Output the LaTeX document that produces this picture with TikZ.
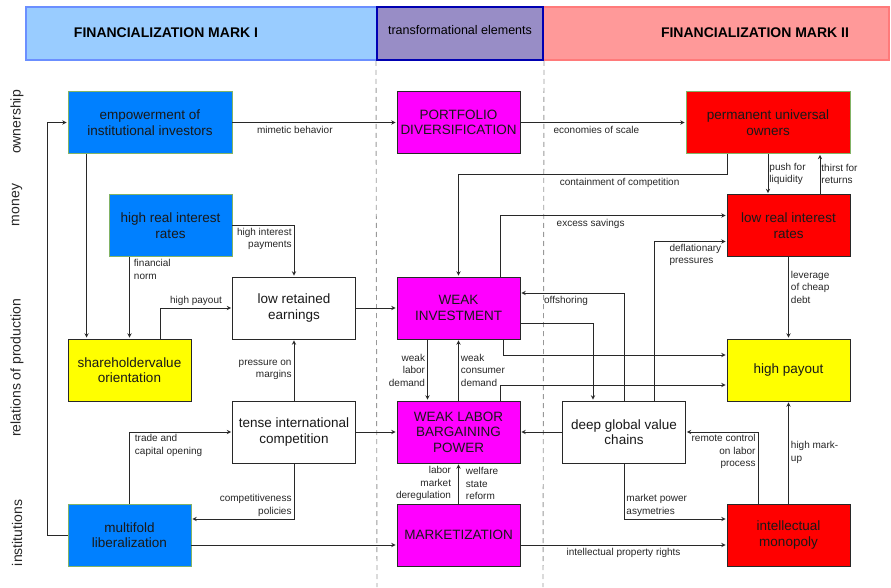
\documentclass[tikz,border=0pt]{standalone}
\usepackage{fontspec}
\setmainfont{Liberation Sans}
\usetikzlibrary{arrows}
\usetikzlibrary{calc}

\definecolor{fblue}{RGB}{0,128,255}
\definecolor{fmag}{RGB}{255,0,255}
\definecolor{fred}{RGB}{255,0,0}
\definecolor{fyel}{RGB}{255,255,0}
\definecolor{gborder}{RGB}{130,179,102}
\definecolor{dline}{RGB}{40,40,40}
\definecolor{hblue}{RGB}{153,204,255}
\definecolor{hpurple}{RGB}{152,141,198}
\definecolor{hred}{RGB}{255,153,153}

\begin{document}
\begin{tikzpicture}[x=1pt,y=-1pt,->,>=stealth,shorten >=1pt,line width=0.9pt,draw=dline,
        box/.style={rectangle,draw=dline,fill=white,minimum width=123pt,minimum height=62pt,inner sep=1pt,
          align=center,font=\fontsize{13.5}{15.5}\selectfont,text=black!90},
        wide/.style={minimum width=164pt},
        bluebox/.style={fill=fblue,draw=gborder},
        magbox/.style={fill=fmag},
        redbox/.style={fill=fred},
        yelbox/.style={fill=fyel},
        lbl/.style={font=\fontsize{10}{12.5}\selectfont,inner sep=2pt,text=black!85},
        band/.style={rectangle,line width=2pt,minimum height=53pt,inner sep=0pt},
        rowlbl/.style={rotate=90,font=\fontsize{14}{16}\selectfont,text=black!85},
        vh/.style={to path={|- (\tikztotarget) \tikztonodes}},
        hv/.style={to path={-| (\tikztotarget) \tikztonodes}}]
  \useasboundingbox (0,0) rectangle (891,588);
  % header bands
  \node[band,fill=hblue,draw=hblue!70!blue] (bI) at (201.5,33.5) [minimum width=351pt] {};
  \node[band,fill=hred,draw=hred!80!red] (bII) at (716,33.5) [minimum width=346pt] {};
  \node[band,fill=hpurple,draw=blue!70!black] (bT) at (460,33.5) [minimum width=166pt] {};
  \node[font=\fontsize{14}{16}\selectfont\bfseries] (mkI) at (166,33) {FINANCIALIZATION MARK I};
  \node[font=\fontsize{12.5}{15}\selectfont] (tel) at (460,30) {transformational elements};
  \node[font=\fontsize{14}{16}\selectfont\bfseries] (mkII) at (755,33) {FINANCIALIZATION MARK II};
  \draw[-,gray!80,dash pattern=on 5pt off 4pt] (bT.south west) -- (377,588);
  \draw[-,gray!80,dash pattern=on 5pt off 4pt] (bT.south east) -- (543,588);
  % row labels
  \node[rowlbl] (rown) at (17,122) {ownership};
  \node[rowlbl] (rmon) at (17,205) {money};
  \node[rowlbl] (rrel) at (17,368) {relations of production};
  \node[rowlbl] (rins) at (17,533) {institutions};
  % mark I
  \node[box,bluebox,wide] (epi) at (150,122.5) {empowerment of\\institutional investors};
  \node[box,bluebox] (hri) at (170.5,225.5) {high real interest\\rates};
  \node[box,yelbox] (svo) at (129.5,370) {shareholdervalue\\orientation};
  \node[box] (lre) at (294,308) {low retained\\earnings};
  \node[box] (tic) at (294,432) {tense international\\competition};
  \node[box,bluebox] (mlib) at (129.5,535) {multifold\\liberalization};
  % transformational elements
  \node[box,magbox] (pdiv) at (458.5,122.5) {PORTFOLIO\\DIVERSIFICATION};
  \node[box,magbox] (winv) at (458.5,308) {WEAK\\INVESTMENT};
  \node[box,magbox] (wlbp) at (458.5,432) {WEAK LABOR\\BARGAINING\\POWER};
  \node[box,magbox] (mkt) at (458.5,535) {MARKETIZATION};
  % mark II
  \node[box,redbox,wide,draw=gborder] (puo) at (768,122.5) {permanent universal\\owners};
  \node[box,redbox] (lrir) at (788.5,225.5) {low real interest\\rates};
  \node[box,yelbox] (hpay) at (788.5,370) {high payout};
  \node[box] (dgvc) at (624,432) {deep global value\\chains};
  \node[box,redbox] (imon) at (788.5,535) {intellectual\\monopoly};

  \path
    (epi) edge node[lbl,below=1pt,pos=.38] {mimetic behavior} (pdiv)
    (pdiv) edge node[lbl,below=1pt,pos=.46] {economies of scale} (puo)
    (lre) edge (winv)
    (tic) edge (wlbp)
    (dgvc) edge (wlbp)
    (tic) edge node[lbl,left,align=right] {pressure on\\margins} (lre)
    (hri) edge[hv] node[lbl,anchor=north east,pos=.5,align=right] {high interest\\payments} (lre)
    (hri.south -| svo.north) edge node[lbl,anchor=north west,pos=0,xshift=2pt,align=left] {financial\\norm} (svo.north)
    ([xshift=19pt]epi.south west) edge ([xshift=19pt]svo.north west)
    ([xshift=30.5pt]svo.north) edge[vh] node[lbl,above,pos=.75] {high payout} (lre)
    (mlib) edge[vh] node[lbl,anchor=north west,pos=.5,xshift=3pt,align=left] {trade and\\capital opening} (tic)
    (tic) edge[vh] node[lbl,anchor=south east,pos=.5,align=right] {competitiveness\\policies} ([yshift=16pt]mlib.east)
    ([yshift=-10pt]mlib.east) edge ([yshift=-10pt]mkt.west)
    ([yshift=-10pt]mkt.east) edge node[lbl,below=1pt] {intellectual property rights} ([yshift=-10pt]imon.west)
    ([xshift=-31pt]winv.south) edge node[lbl,left,align=right] {weak\\labor\\demand} ([xshift=-31pt]wlbp.north)
    (wlbp) edge node[lbl,right,align=left] {weak\\consumer\\demand} (winv)
    (mkt) edge node[lbl,left=5pt,align=right] {labor\\market\\deregulation}
               node[lbl,right=5pt,align=left] {welfare\\state\\reform} (wlbp)
    (dgvc) edge[vh] node[lbl,below=1pt,pos=.78] {offshoring} ([yshift=15pt]winv.east)
    ([yshift=-15pt]winv.east) edge[hv] ([xshift=-31pt]dgvc.north)
    ([xshift=44.5pt]winv.south) edge[vh] ([yshift=15pt]hpay.west)
    ([xshift=41.5pt]wlbp.north) edge[vh] ([yshift=-15pt]hpay.west)
    ([xshift=41.5pt]winv.north) edge[vh] node[lbl,below=1pt,pos=.7] {excess savings} ([yshift=10pt]lrir.west)
    ([xshift=30pt]dgvc.north) edge[vh] node[lbl,anchor=north west,pos=.59,align=left] {deflationary\\pressures} ([yshift=-16pt]lrir.west)
    (puo) edge node[lbl,right,inner sep=1pt,align=left] {push for\\liquidity} (puo.south |- lrir.north)
    ([xshift=31.5pt]lrir.north) edge node[lbl,right,inner sep=1pt,align=left] {thirst for\\returns} ([xshift=31.5pt]lrir.north |- puo.south)
    (lrir) edge node[lbl,right,pos=.37,align=left] {leverage\\of cheap\\debt} (hpay)
    (imon) edge node[lbl,right,align=left] {high mark-\\up} (hpay)
    ([xshift=-30.5pt]imon.north) edge[vh] node[lbl,anchor=north east,pos=.5,align=right] {remote control\\on labor\\process} (dgvc)
    (dgvc) edge[vh] node[lbl,anchor=south west,pos=.5,align=left] {market power\\asymetries} ([yshift=16pt]imon.west)
    ;
  \draw ([xshift=-41pt]puo.south) -- ++(0,21) -| node[lbl,below=1pt,pos=.2] {containment of competition} (winv);
  \draw (mlib.west) -- ++(-20,0) |- (epi);
\end{tikzpicture}
\end{document}
